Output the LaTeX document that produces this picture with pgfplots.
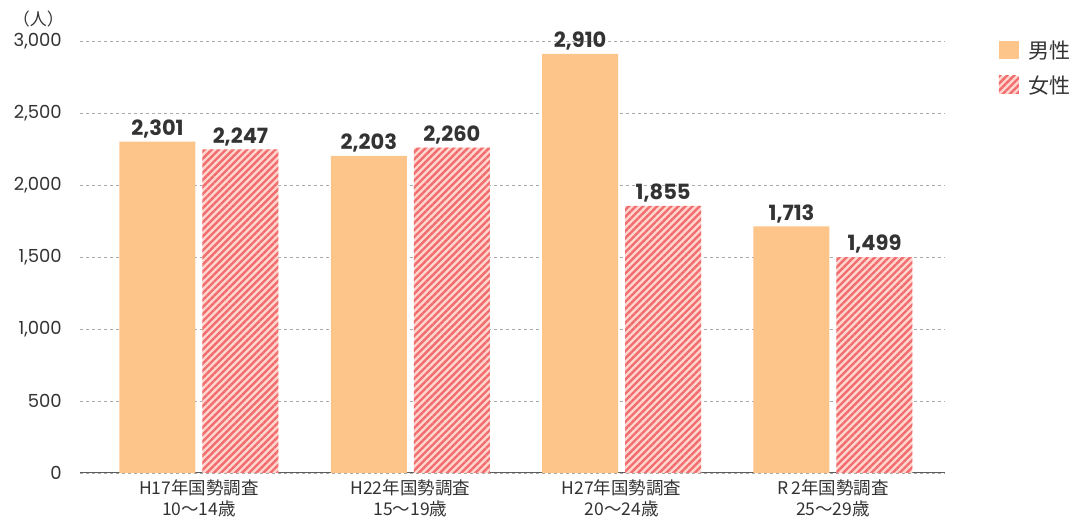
\documentclass[border=0pt]{standalone}
\usepackage{pgfplots}
\pgfplotsset{compat=1.18}
\usepackage{fontspec}
\setmainfont{Poppins}
\newfontfamily\jp{Noto Sans CJK JP}
\usetikzlibrary{patterns.meta}
\definecolor{male}{HTML}{FDC58A}
\definecolor{fembg}{HTML}{FFD6D0}
\definecolor{femline}{HTML}{F26D6D}
\definecolor{txt}{HTML}{333333}
\definecolor{gridc}{HTML}{AAAAAA}
\begin{document}
\begin{tikzpicture}[x=1pt,y=1pt]
\useasboundingbox (-80,-51) rectangle (996,473);
\begin{axis}[
  at={(0,0)}, anchor=south west,
  scale only axis, width=865pt, height=432pt,
  xmin=-0.563, xmax=3.53, ymin=0, ymax=3000,
  axis x line*=bottom, axis y line*=left,
  x axis line style={draw=txt!80, line width=1pt, -},
  y axis line style={draw=none},
  ytick={0,500,1000,1500,2000,2500,3000},
  ymajorgrids, grid style={gridc, dashed, line width=0.6pt},
  major tick length=0pt,
  yticklabel style={font=\fontsize{18}{18}\selectfont, color=txt, inner sep=0pt},
  y tick label style={xshift=-18pt},
  /pgf/number format/assume math mode=true,
  /pgf/number format/1000 sep={,},
  xtick={0,1,2,3},
  xticklabels={{H17年国勢調査\\10〜14歳},{H22年国勢調査\\15〜19歳},{H27年国勢調査\\20〜24歳},{R\,2年国勢調査\\25〜29歳}},
  xticklabel style={font=\jp\fontsize{17.5}{21}\selectfont, color=txt, align=center, yshift=-3pt},
  ybar, bar width=76pt,
  nodes near coords,
  every node near coord/.append style={font=\bfseries\fontsize{21}{21}\selectfont, color=txt, yshift=0pt},
  legend style={at={(1.062,1.005)}, anchor=north west, draw=none, fill=none,
    font=\jp\fontsize{21}{21}\selectfont, text=txt, row sep=12pt, inner sep=0pt,
    /tikz/every even column/.append style={column sep=0pt}},
  legend image code/.code={\draw[#1, draw=none] (0pt,-8pt) rectangle (20pt,10pt);},
  legend cell align=left,
  clip=false,
]
\addplot[fill=male, draw=none, bar shift=-41.5pt] coordinates {(0,2301) (1,2203) (2,2910) (3,1713)};
\addplot[draw=none, bar shift=41.5pt, preaction={fill=fembg},
  pattern={Lines[angle=45, distance=5pt, line width=2.4pt]}, pattern color=femline]
  coordinates {(0,2247) (1,2260) (2,1855) (3,1499)};
\legend{\hspace{8pt}男性,\hspace{8pt}女性}
\node[font=\jp\fontsize{17}{17}\selectfont, color=txt, anchor=south east, inner sep=0pt] at (rel axis cs:0,1) [xshift=-16pt, yshift=14pt] {（人）};
\end{axis}
\end{tikzpicture}
\end{document}
